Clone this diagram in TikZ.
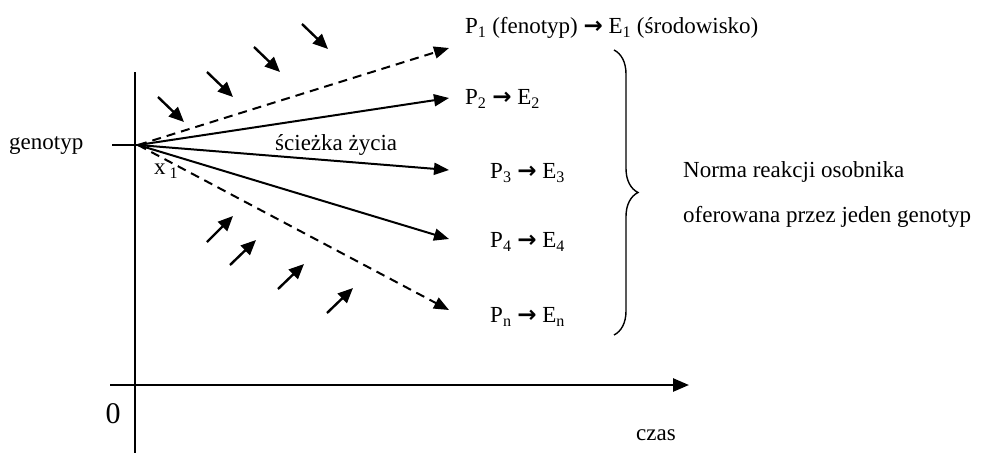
\documentclass[tikz,border=0pt]{standalone}
\usepackage{fontspec}
\setmainfont{Liberation Serif}
\newfontfamily\symf{DejaVu Sans}
\usetikzlibrary{arrows.meta,decorations.pathreplacing}
\newcommand{\rarr}{{\symf\bfseries →}}
\tikzset{
  lbl/.style={font=\fontsize{23}{26}\selectfont, inner sep=0pt, anchor=west},
  main/.style={line width=2pt, -{Triangle[length=15pt,width=12pt]}},
  dsh/.style={main, dash pattern=on 9pt off 6pt},
  small/.style={line width=2.4pt, -{Triangle[length=15pt,width=13pt]}},
  axis/.style={line width=1.8pt}
}
\begin{document}
\begin{tikzpicture}[x=1pt,y=-1pt]
\useasboundingbox (0,0) rectangle (984,453);
% axes
\coordinate (vt) at (135,72);
\coordinate (vb) at (135,453);
\coordinate (hl) at (110,385);
\coordinate (hr) at (689,385);
\draw[axis] (vt) -- (vb);
\draw[line width=2.6pt, -{Triangle[length=16pt,width=13pt]}] (hl) -- (hr);
\node[lbl, anchor=center, font=\fontsize{30}{32}\selectfont] (zero) at (113,414) {0};
\node[lbl, anchor=center] (czas) at (656,435) {czas};
% genotyp
\node[lbl] (gen) at (9,146) {genotyp};
\coordinate (o) at (138,145);
\coordinate (g1) at (112,145);
\draw[axis] (g1) -- (o);
% end points
\coordinate (e1) at (449,48);
\coordinate (e2) at (449,98);
\coordinate (e3) at (449,170);
\coordinate (e4) at (449,239);
\coordinate (e5) at (449,310);
\draw[dsh] (o) -- (e1);
\draw[main] (o) -- (e2);
\draw[main] (o) -- (e3);
\draw[main] (o) -- (e4);
\draw[dsh] (o) -- (e5);
\node[lbl] (sz) at (275,145) {ścieżka życia};
\node[lbl] (x1) at (154,171) {x\,\raisebox{-0.35ex}{\fontsize{16}{16}\selectfont 1}};
% labels
\node[lbl] (l1) at (465,28) {P\textsubscript{1} (fenotyp) \rarr{} E\textsubscript{1} (środowisko)};
\node[lbl] (l2) at (465,99) {P\textsubscript{2} \rarr{} E\textsubscript{2}};
\node[lbl] (l3) at (490,173) {P\textsubscript{3} \rarr{} E\textsubscript{3}};
\node[lbl] (l4) at (490,242) {P\textsubscript{4} \rarr{} E\textsubscript{4}};
\node[lbl] (l5) at (490,317) {P\textsubscript{n} \rarr{} E\textsubscript{n}};
% brace
\coordinate (bt) at (614,50);
\coordinate (bb) at (614,335);
\draw[line width=1.4pt, decorate, decoration={brace, amplitude=24pt, aspect=0.5}] (bt) -- (bb);
\node[lbl] (n1) at (683,172) {Norma reakcji osobnika};
\node[lbl] (n2) at (683,217) {oferowana przez jeden genotyp};
% small arrows
\foreach \a/\b/\c/\d [count=\i] in {158/97/184/122, 207/72/233/97, 254/47/280/72, 302/24/328/49}{
  \coordinate (ua\i) at (\a,\b); \coordinate (ub\i) at (\c,\d);
  \draw[small] (ua\i) -- (ub\i);
}
\foreach \a/\b/\c/\d [count=\i] in {207/242/233/216, 230/265/256/240, 278/289/304/264, 327/313/353/288}{
  \coordinate (la\i) at (\a,\b); \coordinate (lb\i) at (\c,\d);
  \draw[small] (la\i) -- (lb\i);
}
\end{tikzpicture}
\end{document}
